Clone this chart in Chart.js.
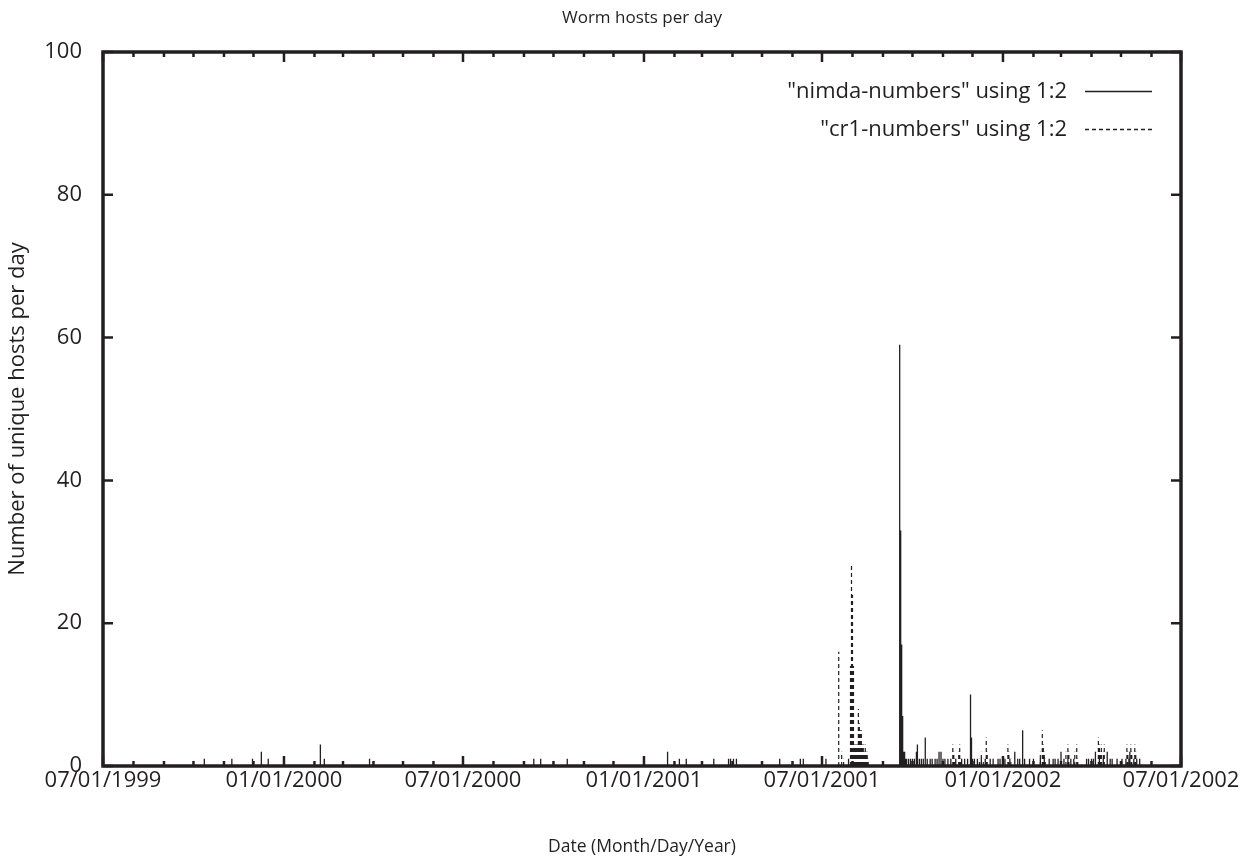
<!DOCTYPE html>
<html>
<head>
<meta charset="utf-8">
<script src="https://cdn.jsdelivr.net/npm/chart.js@4.4.1/dist/chart.umd.min.js"></script>
<style>
  html, body { margin: 0; padding: 0; background: #fff; }
  #wrap { width: 1253px; height: 860px; }
</style>
</head>
<body>
<div id="wrap"><canvas id="worms"></canvas></div>
<script>
const ink = '#231f20'
const face = '"Open Sans", "Noto Sans", sans-serif'

const tickDates = [ '1999-07-01', '2000-01-01', '2000-07-01', '2001-01-01', '2001-07-01', '2002-01-01', '2002-07-01' ]

const nimdaDates = [
  '1999-10-12', '1999-11-09', '1999-11-30', '1999-12-09', '1999-12-16', '2000-02-07', '2000-02-11', '2000-03-28',
  '2000-09-11', '2000-09-18', '2000-10-15', '2001-01-25', '2001-02-06', '2001-02-13', '2001-03-13', '2001-03-28',
  '2001-03-30', '2001-04-02', '2001-04-05', '2001-05-19', '2001-06-09', '2001-06-12', '2001-07-05', '2001-07-28',
  '2001-09-18', '2001-09-19', '2001-09-20', '2001-09-21', '2001-09-22', '2001-09-23', '2001-09-24', '2001-09-25',
  '2001-09-27', '2001-09-29', '2001-10-01', '2001-10-03', '2001-10-05', '2001-10-06', '2001-10-08', '2001-10-10',
  '2001-10-12', '2001-10-14', '2001-10-16', '2001-10-19', '2001-10-21', '2001-10-24', '2001-10-26', '2001-10-28',
  '2001-10-30', '2001-11-01', '2001-11-03', '2001-11-06', '2001-11-09', '2001-11-14', '2001-11-20', '2001-11-23',
  '2001-11-26', '2001-11-29', '2001-11-30', '2001-12-01', '2001-12-03', '2001-12-06', '2001-12-10', '2001-12-14',
  '2001-12-19', '2001-12-22', '2001-12-27', '2001-12-29', '2002-01-03', '2002-01-08', '2002-01-13', '2002-01-16',
  '2002-01-18', '2002-01-21', '2002-01-23', '2002-01-28', '2002-02-01', '2002-02-08', '2002-02-12', '2002-02-17',
  '2002-02-21', '2002-02-23', '2002-02-26', '2002-03-01', '2002-03-04', '2002-03-08', '2002-03-11', '2002-03-14',
  '2002-03-27', '2002-03-29', '2002-04-01', '2002-04-03', '2002-04-05', '2002-04-09', '2002-04-13', '2002-04-17',
  '2002-04-20', '2002-04-22', '2002-04-27', '2002-05-02', '2002-05-06', '2002-05-09', '2002-05-10', '2002-05-14',
  '2002-05-17', '2002-05-20'
]
const nimdaHosts = [
  1, 1, 1, 2, 1, 3, 1, 1,
  1, 1, 1, 2, 1, 1, 1, 1,
  1, 1, 1, 1, 1, 1, 1, 1,
  59, 33, 17, 7, 2, 2, 1, 1,
  1, 1, 1, 1, 2, 3, 1, 1,
  1, 4, 1, 1, 1, 1, 1, 2,
  2, 1, 1, 1, 1, 1, 1, 1,
  1, 10, 4, 1, 1, 1, 1, 1,
  1, 1, 1, 1, 1, 1, 2, 1,
  1, 5, 1, 1, 1, 1, 1, 1,
  1, 1, 1, 2, 1, 1, 1, 1,
  1, 1, 1, 1, 2, 1, 1, 2,
  1, 1, 1, 1, 1, 1, 2, 1,
  1, 1
]

const cr1Dates = [
  '2001-07-18', '2001-07-21', '2001-07-23', '2001-07-30', '2001-07-31', '2001-08-01', '2001-08-02', '2001-08-03',
  '2001-08-04', '2001-08-05', '2001-08-06', '2001-08-07', '2001-08-08', '2001-08-09', '2001-08-10', '2001-08-11',
  '2001-08-12', '2001-08-13', '2001-08-14', '2001-08-15', '2001-08-16', '2001-08-17',
  '2001-11-11', '2001-11-12', '2001-11-13', '2001-11-17', '2001-11-18', '2001-11-19', '2001-12-08', '2001-12-10',
  '2001-12-12', '2001-12-15', '2001-12-16', '2002-01-06', '2002-01-07', '2002-01-09', '2002-02-08', '2002-02-10',
  '2002-02-11', '2002-02-12', '2002-02-13', '2002-03-06', '2002-03-08', '2002-03-09', '2002-03-15', '2002-03-17',
  '2002-03-18', '2002-04-08', '2002-04-09', '2002-04-10', '2002-04-11', '2002-04-13', '2002-04-14', '2002-05-07',
  '2002-05-08', '2002-05-11', '2002-05-12', '2002-05-15', '2002-05-16'
]
const cr1Hosts = [
  16, 2, 1, 14, 28, 24, 14, 3,
  3, 3, 3, 8, 6, 5, 5, 3,
  3, 2, 3, 2, 2, 1,
  3, 2, 1, 2, 3, 1, 1, 2,
  1, 4, 2, 3, 2, 1, 2, 5,
  3, 2, 1, 2, 3, 2, 2, 3,
  1, 4, 3, 2, 3, 2, 3, 3,
  2, 3, 2, 3, 2
]

// each day becomes a vertical stroke from 0 up to its value
function impulses(dates, values) {
  let pts = []
  dates.forEach((d, i) => {
    let t = Date.parse(d)
    pts.push({ x: t, y: 0 }, { x: t, y: values[i] }, { x: t, y: null })
  })
  return pts
}

function pad(n) { return n < 10 ? '0' + n : '' + n }

// gnuplot style frame with inward ticks
const frameTicks = {
  id: 'frameTicks',
  afterDatasetsDraw(chart) {
    const { ctx, chartArea: a, scales: { x, y } } = chart
    ctx.save()
    ctx.strokeStyle = ink
    ctx.lineWidth = 2.5
    ctx.beginPath()
    let start = new Date(x.min)
    for (let m = 0; ; m++) {
      let t = Date.UTC(start.getUTCFullYear(), start.getUTCMonth() + m, 1)
      if (t > x.max) break
      let px = x.getPixelForValue(t)
      let len = (new Date(t).getUTCMonth() % 6 === 0) ? 10 : 5
      ctx.moveTo(px, a.bottom); ctx.lineTo(px, a.bottom - len)
      ctx.moveTo(px, a.top); ctx.lineTo(px, a.top + len)
    }
    y.ticks.forEach(tk => {
      let py = y.getPixelForValue(tk.value)
      ctx.moveTo(a.left, py); ctx.lineTo(a.left + 10, py)
      ctx.moveTo(a.right, py); ctx.lineTo(a.right - 10, py)
    })
    ctx.stroke()
    ctx.lineWidth = 3.5
    ctx.strokeRect(a.left, a.top, a.right - a.left, a.bottom - a.top)
    ctx.restore()
  },
  afterDraw(chart) {
    // key in the top right corner, text first then the line sample
    const { ctx, chartArea: a } = chart
    ctx.save()
    ctx.font = '22px ' + face
    ctx.fillStyle = ink
    ctx.textAlign = 'right'
    ctx.textBaseline = 'middle'
    chart.data.datasets.forEach((ds, i) => {
      let cy = Math.round(a.top + 39 + i * 38) + 0.5
      ctx.fillText(ds.label, a.right - 114, cy)
      ctx.strokeStyle = ds.borderColor
      ctx.lineWidth = 1.5
      ctx.setLineDash(ds.borderDash || [])
      ctx.beginPath()
      ctx.moveTo(a.right - 96, cy)
      ctx.lineTo(a.right - 29, cy)
      ctx.stroke()
    })
    ctx.restore()
  }
}

let worms = new Chart(document.querySelector('#worms'), {
  type: 'line',
  plugins: [frameTicks],
  data: {
    datasets: [{
      label: '"nimda-numbers" using 1:2',
      data: impulses(nimdaDates, nimdaHosts),
      borderColor: ink,
      borderWidth: 1.3,
      pointRadius: 0,
      spanGaps: false
    }, {
      label: '"cr1-numbers" using 1:2',
      data: impulses(cr1Dates, cr1Hosts),
      borderColor: ink,
      borderWidth: 1.2,
      borderDash: [4, 3],
      pointRadius: 0,
      spanGaps: false
    }]
  },
  options: {
    responsive: true,
    maintainAspectRatio: false,
    animation: false,
    layout: {
      padding: { left: 0, right: 72, top: 0, bottom: 0 }
    },
    scales: {
      x: {
        type: 'linear',
        min: Date.parse(tickDates[0]),
        max: Date.parse(tickDates[tickDates.length - 1]),
        grid: { display: false },
        border: { display: false },
        afterBuildTicks: (scale) => {
          scale.ticks = tickDates.map(d => ({ value: Date.parse(d) }))
        },
        afterFit: (scale) => { scale.height = 94 },
        ticks: {
          autoSkip: false,
          maxRotation: 0,
          padding: -6,
          color: ink,
          font: { family: face, size: 22 },
          callback: function (value) {
            let d = new Date(value)
            return pad(d.getUTCMonth() + 1) + '/' + pad(d.getUTCDate()) + '/' + d.getUTCFullYear()
          }
        },
        title: {
          display: true,
          text: 'Date (Month/Day/Year)',
          color: ink,
          font: { family: face, size: 17.5 },
          padding: { top: 0, bottom: 2 }
        }
      },
      // top axis only carries the chart title, so it is centred over the plot
      top: {
        type: 'linear',
        position: 'top',
        grid: { display: false },
        border: { display: false },
        ticks: { display: false },
        afterFit: (scale) => { scale.height = 52 },
        title: {
          display: true,
          text: 'Worm hosts per day',
          color: ink,
          font: { family: face, size: 17 },
          padding: { top: 8, bottom: 0 }
        }
      },
      y: {
        min: 0,
        max: 100,
        grid: { display: false },
        border: { display: false },
        afterFit: (scale) => { scale.width = 103 },
        ticks: {
          stepSize: 20,
          padding: 13,
          color: ink,
          font: { family: face, size: 22 }
        },
        title: {
          display: true,
          text: 'Number of unique hosts per day',
          color: ink,
          font: { family: face, size: 22 },
          padding: { top: 5, bottom: 0 }
        }
      }
    },
    plugins: {
      legend: { display: false },
      tooltip: { enabled: false },
      title: { display: false }
    }
  }
})
</script>
</body>
</html>
